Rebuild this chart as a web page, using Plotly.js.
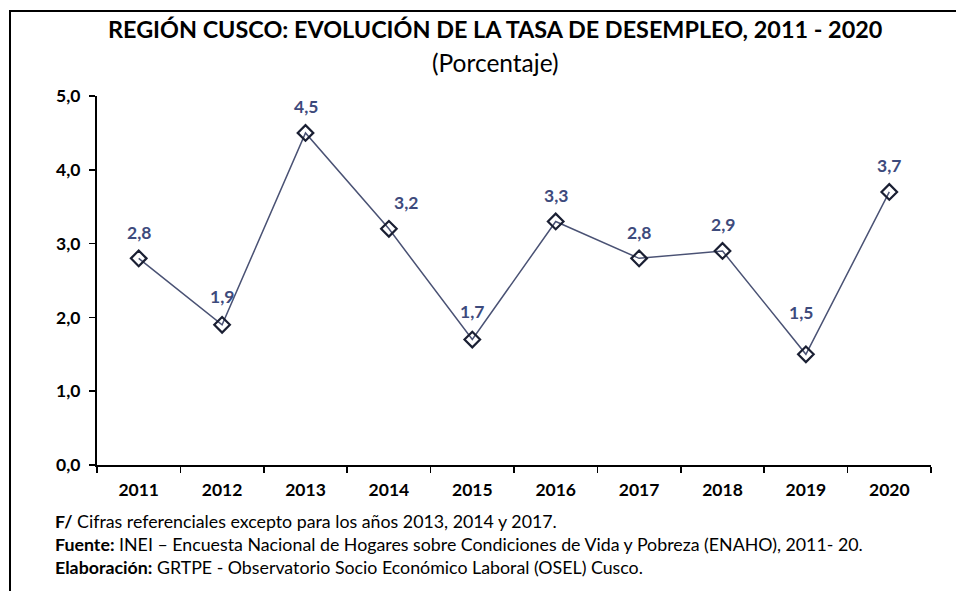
<!DOCTYPE html>
<html>
<head>
<meta charset="utf-8">
<script src="https://cdn.plot.ly/plotly-3.0.1.min.js"></script>
<style>
html,body{margin:0;padding:0;background:#fff;}
#wrap{position:relative;width:956px;height:591px;}
#chart{position:absolute;left:0;top:0;width:956px;height:591px;}
#frame{position:absolute;left:9px;top:10px;right:0;bottom:0;border-left:2px solid #000;border-top:2px solid #000;pointer-events:none;}
</style>
</head>
<body>
<div id="wrap"><div id="chart"></div><div id="frame"></div></div>
<script>
const years = ['2011','2012','2013','2014','2015','2016','2017','2018','2019','2020'];
const rates = [2.8, 1.9, 4.5, 3.2, 1.7, 3.3, 2.8, 2.9, 1.5, 3.7];
const yTicks = [0, 1, 2, 3, 4, 5];
const titleText = 'REGIÓN CUSCO: EVOLUCIÓN DE LA TASA DE DESEMPLEO, 2011 - 2020';
const subtitleText = '(Porcentaje)';
const notes = [
  ['F/', ' Cifras referenciales excepto para los años 2013, 2014 y 2017.'],
  ['Fuente:', ' INEI – Encuesta Nacional de Hogares sobre Condiciones de Vida y Pobreza (ENAHO), 2011- 20.'],
  ['Elaboración:', ' GRTPE - Observatorio Socio Económico Laboral (OSEL) Cusco.']
];
// label offsets (pixels) for the data labels
const labelDx = [0, 0, 0, 17, 0, 0, 0, 0, -5, 0];
const labelDy = [-26, -28, -26, -26, -28, -26, -26, -26, -42, -26];

const fmt = v => v.toFixed(1).replace('.', ',');
const FONT = 'Lato, "Open Sans", sans-serif';

const trace = {
  x: years, y: rates, type: 'scatter', mode: 'lines+markers',
  line: {color: '#4a5274', width: 1.5},
  marker: {symbol: 'diamond-open', size: 12, color: '#1a1f33', line: {width: 2.2, color: '#1a1f33'}},
  hoverinfo: 'skip'
};

const plotL = 97, plotW = 834;
const annotations = [];
years.forEach((yr, i) => {
  annotations.push({
    x: i, y: rates[i], xref: 'x', yref: 'y', text: '<b>' + fmt(rates[i]) + '</b>',
    showarrow: false, xshift: labelDx[i], yshift: -labelDy[i],
    xanchor: 'center', yanchor: 'middle',
    font: {family: FONT, size: 17.5, color: '#3d4a7c'}
  });
});
annotations.push({
  xref: 'paper', yref: 'paper', x: (495 - plotL) / plotW, y: 1, yshift: 67,
  xanchor: 'center', yanchor: 'middle',
  text: '<b>' + titleText + '</b>', showarrow: false,
  font: {family: FONT, size: 23.4, color: '#000'}
});
annotations.push({
  xref: 'paper', yref: 'paper', x: (495 - plotL) / plotW, y: 1, yshift: 34,
  xanchor: 'center', yanchor: 'middle',
  text: subtitleText, showarrow: false,
  font: {family: FONT, size: 24.5, color: '#000'}
});
notes.forEach((n, i) => {
  annotations.push({
    xref: 'paper', yref: 'paper', x: (53 - plotL) / plotW, y: 0, yshift: -(56 + 23 * i),
    xanchor: 'left', yanchor: 'middle',
    text: '<b>' + n[0] + '</b>' + n[1], showarrow: false,
    font: {family: FONT, size: 17.8, color: '#000'}
  });
});

const layout = {
  width: 956, height: 591,
  margin: {l: plotL, r: 25, t: 96, b: 126},
  paper_bgcolor: '#fff', plot_bgcolor: '#fff',
  separators: ',.',
  showlegend: false,
  xaxis: {
    type: 'category', range: [-0.5, 9.5], tickson: 'boundaries',
    ticks: 'outside', ticklen: 6, tickwidth: 1.5, tickcolor: '#000',
    showline: true, linecolor: '#000', linewidth: 2, showgrid: false,
    ticklabelstandoff: 8,
    tickfont: {family: FONT, size: 17.5, color: '#000', weight: 700}, zeroline: false
  },
  yaxis: {
    range: [0, 5], tickvals: yTicks, tickformat: '.1f',
    ticks: 'outside', ticklen: 6, tickwidth: 1.5, tickcolor: '#000',
    showline: true, linecolor: '#000', linewidth: 2, showgrid: false, zeroline: false,
    ticklabelstandoff: 5,
    tickfont: {family: FONT, size: 17.5, color: '#000', weight: 700}
  },
  annotations: annotations
};

Plotly.newPlot('chart', [trace], layout, {displayModeBar: false, staticPlot: true});
</script>
</body>
</html>
